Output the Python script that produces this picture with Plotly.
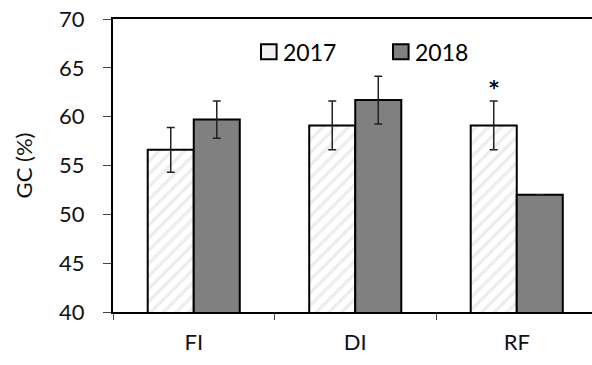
import plotly.graph_objects as go

categories = ["FI", "DI", "RF"]
years = ["2017", "2018"]
gc_2017 = [56.6, 59.1, 59.1]
err_2017 = [2.3, 2.5, 2.5]
gc_2018 = [59.7, 61.7, 52.0]
err_2018 = [1.9, 2.45, 0]
signif_2017 = ["", "", "*"]

FONT = "Lato"
bargap = 0.43
bar_w = (1 - bargap) / 2

fill_2017 = "white"
fill_2018 = "#808080"

fig = go.Figure()
fig.add_trace(go.Bar(
    x=categories, y=gc_2017, name=years[0], showlegend=False,
    marker=dict(color=fill_2017, line=dict(color="black", width=2),
                pattern=dict(shape="/", fgcolor="#dcd8d8", bgcolor="white", size=9, solidity=0.35)),
    error_y=dict(type="data", array=err_2017, visible=True, color="#222222", thickness=1.5, width=4),
))
fig.add_trace(go.Bar(
    x=categories, y=gc_2018, name=years[1], showlegend=False,
    marker=dict(color=fill_2018, line=dict(color="black", width=2)),
    error_y=dict(type="data", array=err_2018, visible=True, color="#222222", thickness=1.5, width=4),
))

for i, s in enumerate(signif_2017):
    if s:
        fig.add_annotation(x=i - bar_w / 2, y=gc_2017[i] + err_2017[i] + 0.15, text="<b>" + s + "</b>",
                           showarrow=False, yanchor="bottom", xref="x", yref="y",
                           font=dict(family="DejaVu Sans", size=19, color="black"))

# manual legend (paper coordinates)
legend_items = [(years[0], "#f2f2f2", 0.309), (years[1], fill_2018, 0.5846)]
sq_w, sq_y0, sq_y1 = 0.0325, 0.8625, 0.9137
for name, col, x0 in legend_items:
    fig.add_shape(type="rect", xref="paper", yref="paper", x0=x0, x1=x0 + sq_w, y0=sq_y0, y1=sq_y1,
                  fillcolor=col, line=dict(color="black", width=2))
    fig.add_annotation(xref="paper", yref="paper", x=x0 + sq_w + 0.0095, y=(sq_y0 + sq_y1) / 2,
                       text=name, showarrow=False, xanchor="left", yanchor="middle",
                       font=dict(family=FONT, size=23, color="black"))

fig.update_layout(
    width=592, height=365,
    margin=dict(l=113, r=0, t=19, b=53, autoexpand=False),
    paper_bgcolor="white", plot_bgcolor="white",
    barmode="group", bargap=bargap, bargroupgap=0,
    font=dict(family=FONT, size=22, color="#111111"),
    showlegend=False,
)
fig.update_xaxes(
    type="category", range=[-0.5, -0.5 + 479 / 161.5],
    showline=True, linecolor="black", linewidth=2, mirror=True,
    ticks="outside", tickson="boundaries", ticklen=6, tickcolor="#444444", tickwidth=1,
    ticklabelstandoff=10,
    tickfont=dict(family=FONT, size=22, color="#111111"), showgrid=False,
)
fig.update_yaxes(
    range=[40, 70], dtick=5, tick0=40,
    showline=True, linecolor="black", linewidth=2,
    ticks="outside", ticklen=8, tickcolor="#444444", tickwidth=1,
    ticklabelstandoff=14,
    tickfont=dict(family=FONT, size=22, color="#111111"), showgrid=False, zeroline=False,
    title=dict(text="GC (%)", font=dict(family=FONT, size=22, color="#111111"), standoff=20),
)

fig.write_html("out.html", config={"displayModeBar": False},
               post_script="document.body.style.margin='0px';")
